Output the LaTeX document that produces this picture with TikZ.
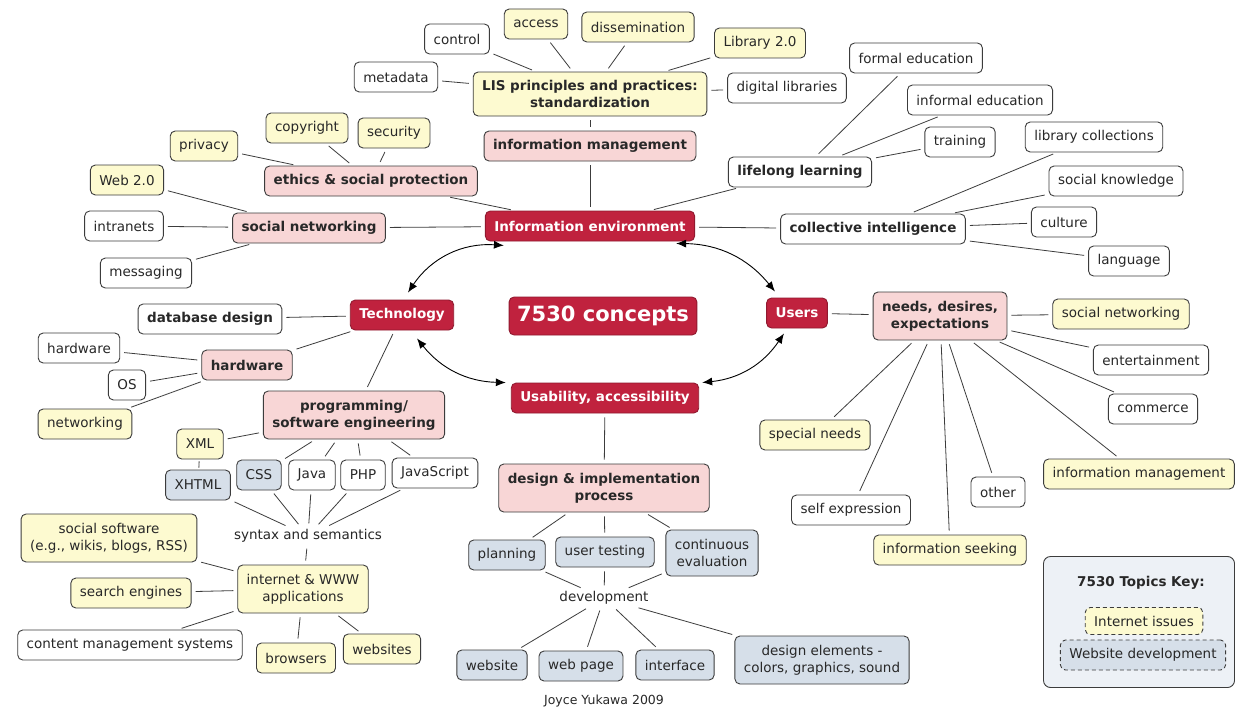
\documentclass[tikz,border=0pt]{standalone}
\usepackage{fontspec}
\setmainfont{DejaVu Sans}
\usetikzlibrary{arrows.meta,calc}
\definecolor{cred}{RGB}{192,34,62}
\definecolor{cpink}{RGB}{248,214,214}
\definecolor{cyel}{RGB}{253,250,208}
\definecolor{cblue}{RGB}{214,223,233}
\definecolor{ckey}{RGB}{237,241,246}
\definecolor{cline}{RGB}{60,60,60}
\definecolor{ctext}{RGB}{40,40,40}
\tikzset{
 base/.style={draw=cline, line width=0.9pt, rounded corners=5pt, minimum height=30pt,
   inner xsep=9pt, inner ysep=3pt, font=\fontsize{13.5}{17}\selectfont, text=ctext, align=center},
 wbox/.style={base, fill=white},
 wbold/.style={base, fill=white, font=\fontsize{13.5}{17}\selectfont\bfseries},
 ybox/.style={base, fill=cyel},
 ybold/.style={base, fill=cyel, font=\fontsize{13.5}{17}\selectfont\bfseries},
 pbox/.style={base, fill=cpink, font=\fontsize{13.5}{17}\selectfont\bfseries},
 rbox/.style={base, fill=cred, draw=cred!75!black, text=white, font=\fontsize{13.5}{17}\selectfont\bfseries},
 bbox/.style={base, fill=cblue},
 two/.style={minimum height=48pt},
 keydash/.style={dash pattern=on 4pt off 3pt},
 txt/.style={font=\fontsize{13.5}{17}\selectfont, text=ctext, inner sep=2pt},
 con/.style={draw=cline, line width=0.8pt, shorten >=4pt, shorten <=4pt},
 arr/.style={draw=black, line width=0.9pt, {Latex[length=10pt,width=8pt]}-{Latex[length=10pt,width=8pt]}},
}
\begin{document}
\begin{tikzpicture}[x=1pt,y=-1pt]
\useasboundingbox[fill=white] (0,0) rectangle (1238,717);

% ---------- centre ----------
\node[rbox] (ie) at (590,226) {Information environment};
\node[rbox] (tech) at (402,315) {Technology};
\node[rbox] (users) at (797,313) {Users};
\node[rbox] (usa) at (605,398) {Usability, accessibility};
\node[rbox, font=\fontsize{21}{25}\selectfont\bfseries, minimum height=38pt, inner xsep=8pt] (c7530) at (603,316) {7530 concepts};

% ---------- top ----------
\node[wbox] (control) at (457,39) {control};
\node[ybox] (access) at (536,24) {access};
\node[ybox] (dissem) at (638,27) {dissemination};
\node[ybox] (lib2) at (760,43) {Library 2.0};
\node[wbox] (metadata) at (396,77) {metadata};
\node[ybold, two, minimum height=44pt] (lis) at (590,94) {LIS principles and practices:\\standardization};
\node[wbox] (diglib) at (787,88) {digital libraries};
\node[pbox] (infman) at (590,146) {information management};

% ---------- upper left ----------
\node[pbox] (ethics) at (371,181) {ethics \& social protection};
\node[ybox] (copyright) at (307,128) {copyright};
\node[ybox] (security) at (394,133) {security};
\node[ybox] (privacy) at (204,146) {privacy};
\node[pbox] (socnet) at (309,228) {social networking};
\node[ybox] (web2) at (127,180) {Web 2.0};
\node[wbox] (intranets) at (124,226) {intranets};
\node[wbox] (messaging) at (146,273) {messaging};

% ---------- upper right ----------
\node[wbold] (lifelong) at (800,172) {lifelong learning};
\node[wbox] (formal) at (916,58) {formal education};
\node[wbox] (informal) at (980,100) {informal education};
\node[wbox] (training) at (960,142) {training};
\node[wbold] (collective) at (873,229) {collective intelligence};
\node[wbox] (libcol) at (1094,137) {library collections};
\node[wbox] (socknow) at (1116,181) {social knowledge};
\node[wbox] (culture) at (1064,222) {culture};
\node[wbox] (language) at (1129,261) {language};

% ---------- right ----------
\node[pbox, two] (needs) at (940,316) {needs, desires,\\expectations};
\node[ybox] (socnet2) at (1121,314) {social networking};
\node[wbox] (entertain) at (1151,360) {entertainment};
\node[wbox] (commerce) at (1153,409) {commerce};
\node[ybox] (infman2) at (1139,474) {information management};
\node[wbox] (other) at (998,492) {other};
\node[ybox] (infseek) at (950,550) {information seeking};
\node[wbox] (selfexp) at (851,510) {self expression};
\node[ybox] (special) at (815,435) {special needs};

% ---------- left ----------
\node[wbold] (dbdesign) at (210,319) {database design};
\node[pbox] (hardware) at (247,365) {hardware};
\node[wbox] (hardware2) at (79,348) {hardware};
\node[wbox] (os) at (127,385) {OS};
\node[ybox] (networking) at (85,424) {networking};
\node[pbox, two] (prog) at (354,415) {programming/\\software engineering};
\node[ybox] (xml) at (200,444) {XML};
\node[bbox] (xhtml) at (198,485) {XHTML};
\node[bbox] (css) at (259,475) {CSS};
\node[wbox] (java) at (312,475) {Java};
\node[wbox] (php) at (363,475) {PHP};
\node[wbox] (js) at (435,473) {JavaScript};
\node[txt] (syntax) at (308,536) {syntax and semantics};
\node[ybox, two] (socsoft) at (109,538) {social software\\(e.g., wikis, blogs, RSS)};
\node[ybox, two] (internet) at (303,589) {internet \& WWW\\applications};
\node[ybox] (search) at (131,593) {search engines};
\node[wbox] (cms) at (130,645) {content management systems};
\node[ybox] (browsers) at (296,658) {browsers};
\node[ybox] (websites) at (382,649) {websites};

% ---------- bottom ----------
\node[pbox, two] (design) at (604,488) {design \& implementation\\process};
\node[bbox] (planning) at (507,555) {planning};
\node[bbox] (usertest) at (605,552) {user testing};
\node[bbox, two, minimum height=46pt] (conteval) at (712,553) {continuous\\evaluation};
\node[txt] (devel) at (604,598) {development};
\node[bbox] (website) at (492,665) {website};
\node[bbox] (webpage) at (581,666) {web page};
\node[bbox] (interface) at (675,665) {interface};
\node[bbox, two] (delements) at (822,660) {design elements -\\colors, graphics, sound};

\node[txt, font=\fontsize{12.5}{15}\selectfont] (author) at (604,701) {Joyce Yukawa 2009};

% ---------- key ----------
\node[draw=cline, fill=ckey, line width=0.9pt, rounded corners=7pt, minimum width=191pt, minimum height=131pt] (key) at (1139,622) {};
\node[txt, font=\fontsize{13.5}{17}\selectfont\bfseries] (keytitle) at (1141,583) {7530 Topics Key:};
\node[ybox, keydash, minimum height=27pt] (keyint) at (1144,621) {Internet issues};
\node[bbox, keydash, minimum height=30pt] (keyweb) at (1143,655) {Website development};

% ---------- connectors ----------
\foreach \a in {control,access,dissem,lib2,metadata,diglib,infman}
  \draw[con] (lis) -- (\a);
\draw[con] (infman) -- (ie);
\foreach \a in {copyright,security,privacy}
  \draw[con] (ethics) -- (\a);
\draw[con] (ethics) -- (ie);
\foreach \a in {web2,intranets,messaging}
  \draw[con] (socnet) -- (\a);
\draw[con] (socnet) -- (ie);
\foreach \a in {formal,informal,training}
  \draw[con] (lifelong) -- (\a);
\draw[con] (lifelong) -- (ie);
\foreach \a in {libcol,socknow,culture,language}
  \draw[con] (collective) -- (\a);
\draw[con] (collective) -- (ie);

\draw[con] (users) -- (needs);
\foreach \a in {socnet2,entertain,commerce,infman2,other,infseek,selfexp,special}
  \draw[con] (needs) -- (\a);

\foreach \a in {dbdesign,hardware,prog}
  \draw[con] (tech) -- (\a);
\foreach \a in {hardware2,os,networking}
  \draw[con] (hardware) -- (\a);
\foreach \a in {xml,css,java,php,js}
  \draw[con] (prog) -- (\a);
\draw[con, shorten >=2pt, shorten <=2pt] (xml) -- (xhtml);
\foreach \a in {xhtml,css,java,php,js}
  \draw[con] (\a) -- (syntax);
\draw[con] (syntax) -- (internet);
\foreach \a in {socsoft,search,cms,browsers,websites}
  \draw[con] (internet) -- (\a);

\draw[con] (usa) -- (design);
\foreach \a in {planning,usertest,conteval}
  \draw[con] (design) -- (\a);
\foreach \a in {planning,usertest,conteval}
  \draw[con] (\a) -- (devel);
\foreach \a in {website,webpage,interface,delements}
  \draw[con] (devel) -- (\a);

% ---------- curved arrows ----------
\draw[arr] ($(ie.south west)+(19,4)$) to[bend right=30] ($(tech.north)+(6,-7)$);
\draw[arr] ($(ie.south east)+(-19,2)$) to[bend left=25] ($(users.north)+(-22,-6)$);
\draw[arr] ($(tech.south)+(15,8)$) to[bend right=25] ($(usa.north west)+(-5,0)$);
\draw[arr] ($(users.south)+(-13,5)$) to[bend left=25] ($(usa.north east)+(3,0)$);
\end{tikzpicture}
\end{document}
